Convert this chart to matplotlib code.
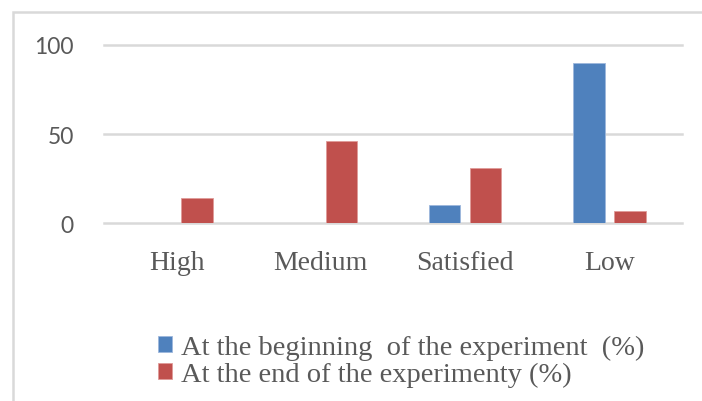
import matplotlib.pyplot as plt
import matplotlib.patches as patches
import numpy as np

categories = ['High', 'Medium', 'Satisfied', 'Low']
debut = [0, 0, 10, 90]
fin = [14, 46, 31, 7]
noms_series = ['At the beginning  of the experiment  (%)',
               'At the end of the experimenty (%)']
yticks = [0, 50, 100]

BLEU = '#4F81BD'
ROUGE = '#C0504D'
GRIS = '#595959'

fig = plt.figure(figsize=(7.02, 4.02), dpi=100)
ax = fig.add_axes([104.3/702, 1-224.3/402, (681.7-104.3)/702, (224.3-45.7)/402])

x = np.arange(len(categories))
larg = 0.216
dec = 0.142
b1 = ax.bar(x-dec, debut, larg, color=BLEU, edgecolor='#9db7dc', linewidth=0.6, label=noms_series[0], zorder=3)
b2 = ax.bar(x+dec, fin, larg, color=ROUGE, edgecolor='#e09a98', linewidth=0.6, label=noms_series[1], zorder=3)

ax.set_xlim(-0.5, 3.5)
ax.set_ylim(0, 100)
ax.set_yticks(yticks)
ax.yaxis.grid(True, color='#d9d9d9', linewidth=1.8)
for l in ax.get_ygridlines():
	l.set_clip_on(False)
ax.set_axisbelow(True)
for s in ax.spines.values():
	s.set_visible(False)
ax.tick_params(axis='both', length=0)
ax.tick_params(axis='y', pad=22, labelsize=16.5, labelcolor=GRIS)
ax.tick_params(axis='x', pad=19, labelcolor=GRIS)
for t in ax.get_yticklabels():
	t.set_fontfamily('Lato')
ax.set_xticks(x)
ax.set_xticklabels(categories, fontfamily='Liberation Serif', fontsize=20)

leg = fig.legend(handles=[b1, b2], labels=noms_series, loc='upper left',
	bbox_to_anchor=(158/702, 1-336/402), frameon=False,
	prop={'family': 'Liberation Serif', 'size': 20.5},
	handlelength=0.5, handleheight=0.5, handletextpad=0.3,
	labelspacing=0.05, borderpad=0, borderaxespad=0)
for t in leg.get_texts():
	t.set_color(GRIS)

# cadre gris autour du graphique
cadre = patches.Rectangle((13/702, -0.1), 1.2, (402-13)/402+0.1, transform=fig.transFigure,
	fill=False, edgecolor='#d9d9d9', linewidth=1.8)
fig.patches.append(cadre)

plt.savefig('out.png', dpi=100)
